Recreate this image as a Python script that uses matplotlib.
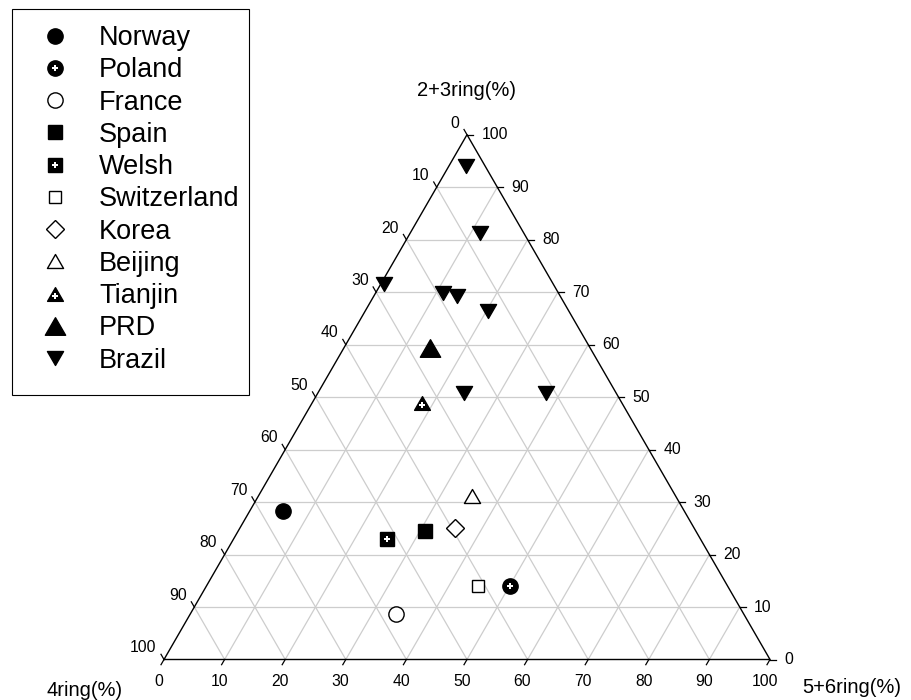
import numpy as np
import matplotlib
matplotlib.use("Agg")
import matplotlib.pyplot as plt
from matplotlib.path import Path
from matplotlib.patches import Rectangle
from matplotlib.legend_handler import HandlerTuple

plt.rcParams['font.family'] = ['Liberation Sans', 'DejaVu Sans']

# ---------------- data (percent) ----------------
series_names = ['Norway', 'Poland', 'France', 'Spain', 'Welsh', 'Switzerland',
                'Korea', 'Beijing', 'Tianjin', 'PRD', 'Brazil']
group = ['Norway', 'Poland', 'France', 'Spain', 'Welsh', 'Switzerland',
         'Korea', 'Beijing', 'Tianjin', 'PRD',
         'Brazil', 'Brazil', 'Brazil', 'Brazil', 'Brazil', 'Brazil', 'Brazil', 'Brazil']
ring4 = [66.2, 35.9, 57.3, 44.7, 51.7, 41.2, 39.4, 33.5, 33.0, 26.4,
         3.2, 7.3, 27.9, 19.1, 17.1, 13.4, 25.1, 11.6]
ring23 = [28.3, 14.1, 8.7, 24.5, 23.0, 14.0, 25.1, 31.2, 48.9, 59.3,
          94.0, 81.2, 71.5, 69.8, 69.2, 66.4, 50.8, 50.8]
ring56 = [5.5, 50.0, 34.0, 30.8, 25.3, 44.8, 35.5, 35.3, 18.1, 14.3,
          2.8, 11.5, 0.6, 11.1, 13.7, 20.2, 24.1, 37.6]
tick_values = [0, 10, 20, 30, 40, 50, 60, 70, 80, 90, 100]

# ---------------- figure / coordinate system ----------------
W, H = 912, 700
fig = plt.figure(figsize=(W / 100, H / 100), dpi=100)
ax = fig.add_axes([0, 0, 1, 1])
S = 606.0      # triangle side in pixels
X0, Y0 = 164.0, 659.5
ax.set_xlim(-X0 / S, (W - X0) / S)
ax.set_ylim((Y0 - H) / S, Y0 / S)
ax.axis('off')
h = np.sqrt(3) / 2


def to_xy(a, c, b):
    a = np.asarray(a, float); b = np.asarray(b, float); c = np.asarray(c, float)
    tot = a + b + c
    b = b / tot; c = c / tot
    return b + c / 2, c * h


# grid
gcol = '#cdcdcd'
for k in range(1, 10):
    f = k / 10
    ax.plot([f / 2, 1 - f / 2], [f * h, f * h], color=gcol, lw=0.9, zorder=1)
    ax.plot([f, f + (1 - f) / 2], [0, (1 - f) * h], color=gcol, lw=0.9, zorder=1)
    ax.plot([1 - f, (1 - f) / 2], [0, (1 - f) * h], color=gcol, lw=0.9, zorder=1)

# triangle frame
ax.plot([0, 1, 0.5, 0], [0, 0, h, 0], color='black', lw=1.0, zorder=2,
        solid_joinstyle='miter')

# ticks + labels
L = 6.0 / S
tfs = 11.3
for v in tick_values:
    f = v / 100
    # bottom axis (5+6ring)
    px, py = f, 0.0
    ex, ey = px - 0.5 * L, py - h * L
    ax.plot([px, ex], [py, ey], color='black', lw=0.9, zorder=2)
    ax.annotate(str(v), (ex, ey), xytext=(-1.5, -15.5), textcoords='offset points',
                ha='center', va='baseline', fontsize=tfs)
    # right axis (2+3ring)
    px, py = 1 - f / 2, f * h
    ex, ey = px + L, py
    ax.plot([px, ex], [py, ey], color='black', lw=0.9, zorder=2)
    ax.annotate(str(v), (ex, ey), xytext=(6.0, 0), textcoords='offset points',
                ha='left', va='center', fontsize=tfs)
    # left axis (4ring)
    c = 1 - f
    px, py = c / 2, c * h
    ex, ey = px - 0.5 * L, py + h * L
    ax.plot([px, ex], [py, ey], color='black', lw=0.9, zorder=2)
    ax.annotate(str(v), (ex, ey), xytext=(-3.2, 1.4), textcoords='offset points',
                ha='right', va='baseline', fontsize=tfs)

# axis titles
afs = 14.5
ax.annotate('2+3ring(%)', (0.5, h), xytext=(0, 32), textcoords='offset points',
            ha='center', va='center', fontsize=afs)
ax.annotate('4ring(%)', (0, 0), xytext=(-57.5, -22), textcoords='offset points',
            ha='center', va='center', fontsize=afs)
ax.annotate('5+6ring(%)', (1, 0), xytext=(58.8, -20.5), textcoords='offset points',
            ha='center', va='center', fontsize=afs)

# ---------------- markers ----------------
tri_up = Path([(0, 0.433), (-0.5, -0.433), (0.5, -0.433), (0, 0.433)],
              [Path.MOVETO, Path.LINETO, Path.LINETO, Path.CLOSEPOLY])
tri_down = Path([(0, -0.433), (-0.5, 0.433), (0.5, 0.433), (0, -0.433)],
                [Path.MOVETO, Path.LINETO, Path.LINETO, Path.CLOSEPOLY])


def plus_marker(ms_pt, dy=0.0, arm_px=3.0, half_px=1.1):
    s = ms_pt * 100 / 72
    a = arm_px / s
    t = half_px / s
    pts = [(-t, a), (t, a), (t, t), (a, t), (a, -t), (t, -t), (t, -a),
           (-t, -a), (-t, -t), (-a, -t), (-a, t), (-t, t), (-t, a)]
    verts = [(0.5, 0.5)] + [(x, y + dy) for x, y in pts]
    codes = [Path.MOVETO, Path.MOVETO] + [Path.LINETO] * 11 + [Path.CLOSEPOLY]
    return Path(verts, codes)


styles = {
    'Norway':      dict(marker='o', ms=11.0, fill='black'),
    'Poland':      dict(marker='o', ms=11.0, fill='black', plus=0.0),
    'France':      dict(marker='o', ms=11.0, fill='white'),
    'Spain':       dict(marker='s', ms=10.2, fill='black'),
    'Welsh':       dict(marker='s', ms=9.8, fill='black', plus=0.0),
    'Switzerland': dict(marker='s', ms=9.3, fill='white'),
    'Korea':       dict(marker='D', ms=8.8, fill='white'),
    'Beijing':     dict(marker=tri_up, ms=11.6, fill='white'),
    'Tianjin':     dict(marker=tri_up, ms=11.4, fill='black', plus=-0.144),
    'PRD':         dict(marker=tri_up, ms=14.6, fill='black'),
    'Brazil':      dict(marker=tri_down, ms=11.6, fill='black'),
}

X, Y = to_xy(ring4, ring23, ring56)
grp = np.array(group)
handles = []
for name in series_names:
    st = styles[name]
    idx = grp == name
    base, = ax.plot(X[idx], Y[idx], linestyle='none', marker=st['marker'],
                    ms=st['ms'], mfc=st['fill'], mec='black', mew=1.0, zorder=4)
    if 'plus' in st:
        pm = plus_marker(st['ms'], st['plus'])
        pl, = ax.plot(X[idx], Y[idx], linestyle='none', marker=pm, ms=st['ms'],
                      mfc='white', mec='none', mew=0, zorder=5)
        handles.append((base, pl))
    else:
        handles.append(base)

leg = ax.legend(handles, series_names, loc='upper left',
                bbox_to_anchor=(12 / W, 1 - 9 / H), bbox_transform=fig.transFigure,
                borderaxespad=0, fontsize=19.5, frameon=False,
                handlelength=2.0, handletextpad=0.62, borderpad=0.6,
                labelspacing=0.23, numpoints=1,
                handler_map={tuple: HandlerTuple(ndivide=1)})

# legend frame box (figure pixels)
fig.add_artist(Rectangle((12 / W, 1 - 395 / H), (249 - 12) / W, (395 - 9) / H,
                         transform=fig.transFigure, fill=False,
                         edgecolor='black', linewidth=0.8))

fig.savefig('out.png', dpi=100)
